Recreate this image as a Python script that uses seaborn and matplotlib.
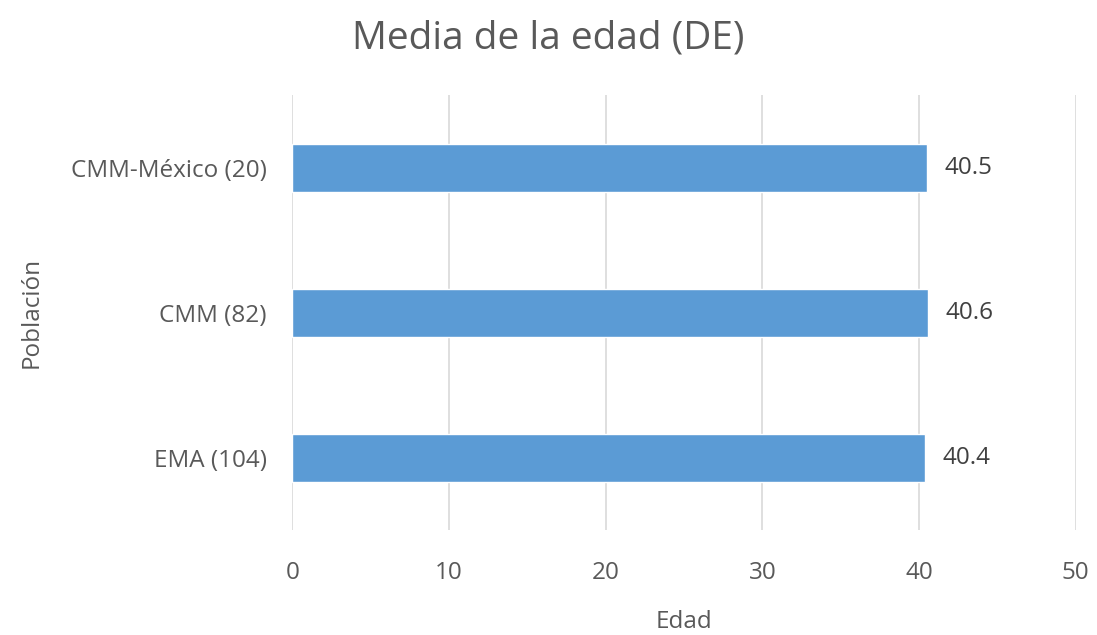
import matplotlib
matplotlib.use("Agg")
import matplotlib.pyplot as plt
import seaborn as sns
import pandas as pd

categories = ["CMM-México (20)", "CMM (82)", "EMA (104)"]
values = [40.5, 40.6, 40.4]
xticks = [0, 10, 20, 30, 40, 50]

df = pd.DataFrame({"Población": categories, "Edad": values})

sns.set_theme(style="white")
plt.rcParams["font.family"] = ["Open Sans", "DejaVu Sans"]
txt = "#595959"

fig = plt.figure(figsize=(10.97, 6.35), dpi=100)
ax = fig.add_axes([0.266, 0.165, 0.715, 0.685])
sns.barplot(data=df, y="Población", x="Edad", color="#5B9BD5", width=0.33,
            saturation=1, ax=ax, zorder=3)
ax.set_xlim(-0.03, 50.03)
ax.set_ylim(2.5, -0.5)
ax.set_xticks(xticks)
ax.set_xticklabels([str(t) for t in xticks])
ax.grid(axis="x", color="#D9D9D9", linewidth=1.2, zorder=0)
ax.grid(axis="y", visible=False)
for s in ax.spines.values():
    s.set_visible(False)
ax.tick_params(axis="x", length=0, labelsize=17.5, colors=txt, pad=22)
ax.tick_params(axis="y", length=0, labelsize=17.5, colors=txt, pad=18)
for i, v in enumerate(values):
    ax.text(v + 1.1, i, f"{v}", va="center", ha="left", fontsize=17.5, color="#404040")
ax.set_xlabel("Edad", fontsize=17.5, color=txt, labelpad=18)
ax.set_ylabel("Población", fontsize=17.5, color=txt, labelpad=20)
fig.suptitle("Media de la edad (DE)", fontsize=28, color=txt, y=0.97)
fig.savefig("out.png", dpi=100)
